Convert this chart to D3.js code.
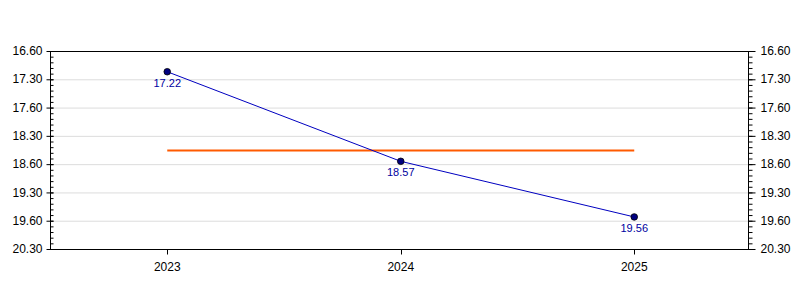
<!DOCTYPE html>
<html><head><meta charset="utf-8">
<script src="https://cdn.jsdelivr.net/npm/d3@7"></script>
<style>body{margin:0;background:#fff}svg{display:block}</style>
</head><body><svg id="c" width="800" height="300"></svg>
<script>
const categories = ["2023", "2024", "2025"];
const valueLabels = ["17.22", "18.57", "19.56"];   // mm.ss
const values = [17.22, 18.57, 19.56];
const tickValues = [17.0, 17.5, 18.0, 18.5, 19.0, 19.5, 20.0, 20.5];
const tickLabels = ["16.60", "17.30", "17.60", "18.30", "18.60", "19.30", "19.60", "20.30"];
const yDomain = [17.0, 20.5];

const toMin = v => Math.floor(v) + Math.round((v - Math.floor(v)) * 100) / 60;
const mins = values.map(toMin);
const mean = d3.mean(mins);

const L = 50, R = 748, T = 51, B = 249;
const svg = d3.select("#c");
const x = d3.scalePoint().domain(categories).range([L + 0.5, R + 3]).padding(0.5);
const y = d3.scaleLinear().domain(yDomain).range([T, B]);
const minor = d3.range(yDomain[0], yDomain[1] + 0.001, 0.1).map(v => +v.toFixed(2));

// gridlines
svg.append("g").selectAll("line").data(tickValues.slice(1, -1)).join("line")
  .attr("x1", L).attr("x2", R).attr("y1", d => y(d) + 0.5).attr("y2", d => y(d) + 0.5)
  .attr("stroke", "#dcdcdc").attr("stroke-width", 1);

// frame top/bottom
svg.append("line").attr("x1", L).attr("x2", R).attr("y1", T + 0.5).attr("y2", T + 0.5).attr("stroke", "#000");
svg.append("line").attr("x1", L).attr("x2", R).attr("y1", B + 0.5).attr("y2", B + 0.5).attr("stroke", "#000");

// left axis
const gl = svg.append("g").attr("transform", `translate(${L + 0.5},0)`);
gl.append("line").attr("y1", T).attr("y2", B + 1).attr("stroke", "#000");
gl.selectAll(".mi").data(minor).join("line").attr("class", "mi")
  .attr("x1", 0).attr("x2", 3).attr("y1", d => y(d) + 0.5).attr("y2", d => y(d) + 0.5).attr("stroke", "#000");
gl.selectAll(".ma").data(tickValues).join("line").attr("class", "ma")
  .attr("x1", -4).attr("x2", 3).attr("y1", d => y(d) + 0.5).attr("y2", d => y(d) + 0.5).attr("stroke", "#000");
gl.selectAll("text").data(tickValues).join("text")
  .attr("x", -8).attr("y", d => y(d)).attr("dy", "0.35em").attr("text-anchor", "end")
  .attr("font-family", "Liberation Sans, Arial, sans-serif").attr("font-size", 12).attr("fill", "#000")
  .text((d, i) => tickLabels[i]);

// right axis
const gr = svg.append("g").attr("transform", `translate(${R + 0.5},0)`);
gr.append("line").attr("y1", T).attr("y2", B + 1).attr("stroke", "#000");
gr.selectAll(".mi").data(minor).join("line").attr("class", "mi")
  .attr("x1", 0).attr("x2", 4).attr("y1", d => y(d) + 0.5).attr("y2", d => y(d) + 0.5).attr("stroke", "#000");
gr.selectAll(".ma").data(tickValues).join("line").attr("class", "ma")
  .attr("x1", 0).attr("x2", 7).attr("y1", d => y(d) + 0.5).attr("y2", d => y(d) + 0.5).attr("stroke", "#000");
gr.selectAll("text").data(tickValues).join("text")
  .attr("x", 12).attr("y", d => y(d)).attr("dy", "0.35em").attr("text-anchor", "start")
  .attr("font-family", "Liberation Sans, Arial, sans-serif").attr("font-size", 12).attr("fill", "#000")
  .text((d, i) => tickLabels[i]);

// bottom axis
const gb = svg.append("g").attr("transform", `translate(0,${B + 0.5})`);
gb.selectAll("line").data(categories).join("line")
  .attr("x1", d => Math.round(x(d)) + 0.5).attr("x2", d => Math.round(x(d)) + 0.5)
  .attr("y1", 0).attr("y2", 5).attr("stroke", "#000");
gb.selectAll("text").data(categories).join("text")
  .attr("x", d => x(d)).attr("y", 17).attr("dy", "0.35em").attr("text-anchor", "middle")
  .attr("font-family", "Liberation Sans, Arial, sans-serif").attr("font-size", 12).attr("fill", "#000")
  .text(d => d);

// mean line
svg.append("line")
  .attr("x1", x(categories[0])).attr("x2", x(categories[categories.length - 1]))
  .attr("y1", y(mean) + 0.5).attr("y2", y(mean) + 0.5)
  .attr("stroke", "#ff5a00").attr("stroke-width", 2);

// series line
const data = categories.map((c, i) => ({c, v: mins[i], label: valueLabels[i]}));
svg.append("path").datum(data)
  .attr("d", d3.line().x(d => x(d.c)).y(d => y(d.v)))
  .attr("fill", "none").attr("stroke", "#0000c0").attr("stroke-width", 1);

svg.selectAll(".pt").data(data).join("circle").attr("class", "pt")
  .attr("cx", d => x(d.c)).attr("cy", d => y(d.v)).attr("r", 3.3)
  .attr("fill", "#000080").attr("stroke", "#000").attr("stroke-width", 0.8);

svg.selectAll(".lb").data(data).join("text").attr("class", "lb")
  .attr("x", d => x(d.c)).attr("y", d => y(d.v) + 11).attr("dy", "0.35em").attr("text-anchor", "middle")
  .attr("font-family", "Liberation Sans, Arial, sans-serif").attr("font-size", 11).attr("fill", "#0000a0")
  .text(d => d.label);
</script></body></html>
